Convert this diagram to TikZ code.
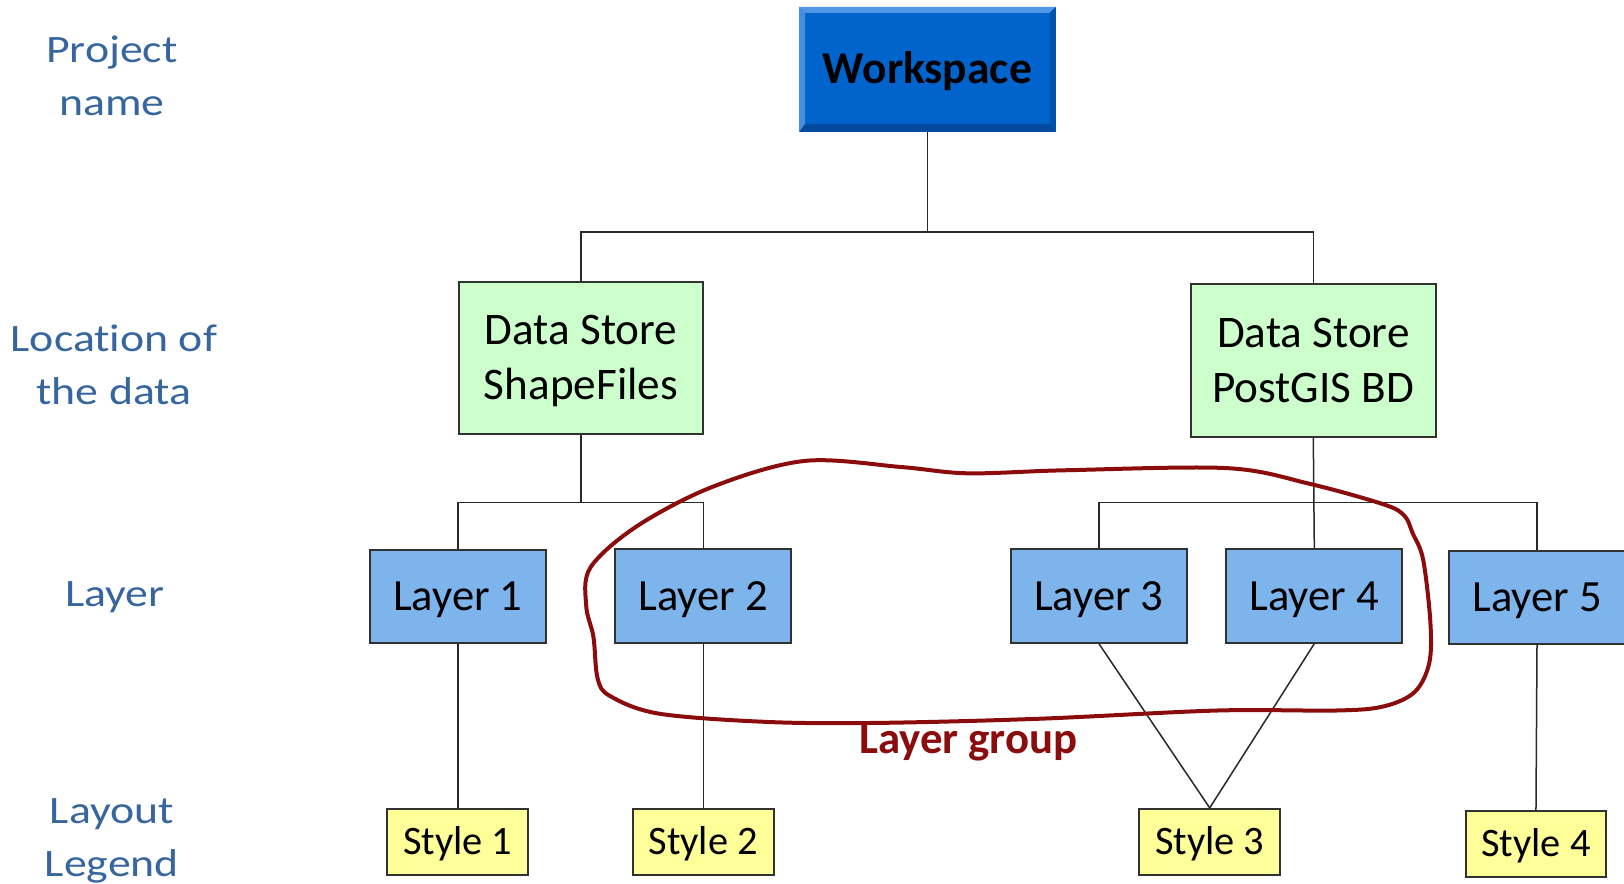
\documentclass[tikz,border=0pt]{standalone}
\usepackage{fontspec}
\setmainfont{Carlito}[Ligatures=NoCommon]
\newfontfamily\lblfont[FakeStretch=1.18,Ligatures=NoCommon]{Carlito}
\usetikzlibrary{calc}
\definecolor{wsblue}{RGB}{0,100,204}
\definecolor{bevlight}{RGB}{80,150,226}
\definecolor{bevdark}{RGB}{0,74,160}
\definecolor{dsgreen}{RGB}{204,255,204}
\definecolor{lyblue}{RGB}{126,180,236}
\definecolor{styellow}{RGB}{255,255,153}
\definecolor{bordergray}{RGB}{50,50,50}
\definecolor{linegray}{RGB}{40,40,40}
\definecolor{blobred}{RGB}{139,12,12}
\definecolor{lblblue}{RGB}{55,102,158}
\def\pu{0.51786pt}
\tikzset{
  boxbase/.style={draw=bordergray, line width=1pt, inner sep=0pt, align=center},
  wsbox/.style={fill=wsblue, inner sep=0pt, minimum width=247*\pu, minimum height=120*\pu,
    font=\fontsize{22.8pt}{27pt}\selectfont\bfseries, text height=14.4pt, text depth=0pt},
  dsbox/.style={boxbase, fill=dsgreen, minimum width=236*\pu, minimum height=147*\pu,
    font=\fontsize{22.6pt}{27.4pt}\selectfont, text height=41.6pt, text depth=0pt},
  lybox/.style={boxbase, fill=lyblue, minimum width=170*\pu, minimum height=90*\pu,
    font=\fontsize{22.3pt}{27pt}\selectfont, text height=14.1pt, text depth=0pt},
  stbox/.style={boxbase, fill=styellow, minimum width=136*\pu, minimum height=64*\pu,
    font=\fontsize{20.2pt}{24pt}\selectfont, text height=12.8pt, text depth=0pt},
  sidelbl/.style={text=lblblue, inner sep=0pt, align=center, anchor=south,
    font=\lblfont\fontsize{19.4pt}{26.6pt}\selectfont, text height=12.2pt, text depth=0pt},
  conn/.style={draw=linegray, line width=0.75pt},
}
\begin{document}
\begin{tikzpicture}[x=0.51786pt, y=-0.51786pt]
\path[use as bounding box] (0,0) rectangle (1568,853.5);
\begin{scope}
\clip (0,0) rectangle (1568,853.5);
% side labels
\node[sidelbl] (lblA) at (108,112) {Project\\name};
\node[sidelbl] (lblB) at (110,391) {Location of\\the data};
\node[sidelbl] (lblC) at (111,586) {Layer};
\node[sidelbl] (lblD) at (108,847) {Layout\\Legend};

% bus coordinates
\coordinate (busA) at (0,224);
\coordinate (busB) at (0,485);

% nodes
\node[wsbox] (ws) at (895.5,67) {Workspace};
\fill[bevlight] (ws.north west) -- (ws.north east) -- ([xshift=-3pt,yshift=-3pt]ws.north east) -- ([xshift=3pt,yshift=-3pt]ws.north west) -- cycle;
\fill[bevlight!85!wsblue] (ws.north west) -- ([xshift=3pt,yshift=-3pt]ws.north west) -- ([xshift=3pt,yshift=4pt]ws.south west) -- (ws.south west) -- cycle;
\fill[bevdark] (ws.south west) -- ([xshift=3pt,yshift=4pt]ws.south west) -- ([xshift=-3pt,yshift=4pt]ws.south east) -- (ws.south east) -- cycle;
\fill[bevdark!70!wsblue] (ws.north east) -- (ws.south east) -- ([xshift=-3pt,yshift=4pt]ws.south east) -- ([xshift=-3pt,yshift=-3pt]ws.north east) -- cycle;

\node[dsbox] (ds1) at (561,345.5) {Data Store\\ShapeFiles};
\node[dsbox] (ds2) at (1268,348) {Data Store\\PostGIS BD};

\node[lybox] (l1) at (442,576) {Layer 1};
\node[lybox] (l2) at (679,575.5) {Layer 2};
\node[lybox] (l3) at (1061,575.5) {Layer 3};
\node[lybox] (l4) at (1269,575.5) {Layer 4};
\node[lybox] (l5) at (1484,577) {Layer 5};

\node[stbox] (s1) at (442,812.7) {Style 1};
\node[stbox] (s2) at (679,812.7) {Style 2};
\node[stbox] (s3) at (1168,813) {Style 3};
\node[stbox] (s4) at (1483,815) {Style 4};

% connectors
\draw[conn] (ws.south) -- (ws.south |- busA);
\draw[conn] (ds1.north) |- (busA -| ws.south) -| (ds2.north);
\draw[conn] (ds1.south) -- (ds1.south |- busB);
\draw[conn] (l1.north) |- (busB -| ds1.south) -| (l2.north);
\draw[conn] (l3.north) |- (busB -| l5.north) -- (l5.north);
\draw[conn] (ds2.south) -- (l4.north);
\draw[conn] (l1.south) -- (s1.north);
\draw[conn] (l2.south) -- (s2.north);
\draw[conn] (l3.south) -- (s3.north);
\draw[conn] (l4.south) -- (s3.north);
\draw[conn] (l5.south) -- (s4.north);

% layer group outline
\draw[blobred, line width=2pt, line join=round] plot[smooth cycle, tension=0.55] coordinates {
 (566,585) (570,548) (615,508) (688,470) (777,445) (871,451) (935,457) (1030,454)
 (1185,452) (1264,467) (1336,487) (1356,498) (1364,515) (1374,540) (1381,600)
 (1380,640) (1366,668) (1336,682) (1290,686) (1175,686) (1002,694) (845,698)
 (740,697) (636,689) (589,672) (577,655) (573,615)};
\node[text=blobred, inner sep=0pt, anchor=base, font=\fontsize{22.4pt}{27pt}\selectfont\bfseries] (lg) at (935,727.4) {Layer group};
\end{scope}
\end{tikzpicture}
\end{document}
